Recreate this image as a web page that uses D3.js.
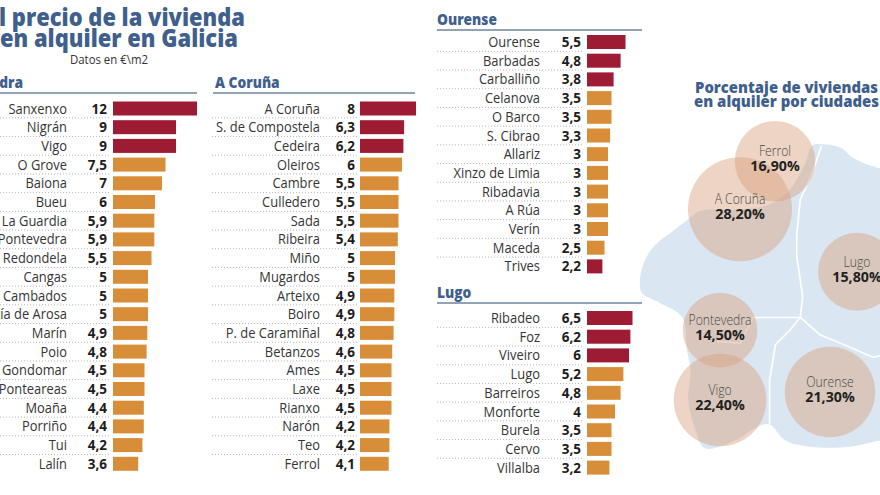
<!DOCTYPE html>
<html>
<head>
<meta charset="utf-8">
<script src="https://cdn.jsdelivr.net/npm/d3@7"></script>
<style>
  body { margin: 0; background: #fff; }
  svg { display: block; font-family: "Open Sans", "Noto Sans", sans-serif; }
</style>
</head>
<body>
<svg id="chart" width="880" height="495"></svg>
<script>
// ---- data (euros per m2) ----
var pontevedraCities = ["Sanxenxo", "Nigrán", "Vigo", "O Grove", "Baiona", "Bueu", "La Guardia",
  "Pontevedra", "Redondela", "Cangas", "Cambados", "Vilagarcía de Arosa", "Marín", "Poio",
  "Gondomar", "Ponteareas", "Moaña", "Porriño", "Tui", "Lalín"];
var pontevedraValues = [12, 9, 9, 7.5, 7, 6, 5.9, 5.9, 5.5, 5, 5, 5, 4.9, 4.8, 4.5, 4.5, 4.4, 4.4, 4.2, 3.6];

var corunaCities = ["A Coruña", "S. de Compostela", "Cedeira", "Oleiros", "Cambre", "Culledero",
  "Sada", "Ribeira", "Miño", "Mugardos", "Arteixo", "Boiro", "P. de Caramiñal", "Betanzos",
  "Ames", "Laxe", "Rianxo", "Narón", "Teo", "Ferrol"];
var corunaValues = [8, 6.3, 6.2, 6, 5.5, 5.5, 5.5, 5.4, 5, 5, 4.9, 4.9, 4.8, 4.6, 4.5, 4.5, 4.5, 4.2, 4.2, 4.1];

var ourenseCities = ["Ourense", "Barbadas", "Carballiño", "Celanova", "O Barco", "S. Cibrao",
  "Allariz", "Xinzo de Limia", "Ribadavia", "A Rúa", "Verín", "Maceda", "Trives"];
var ourenseValues = [5.5, 4.8, 3.8, 3.5, 3.5, 3.3, 3, 3, 3, 3, 3, 2.5, 2.2];

var lugoCities = ["Ribadeo", "Foz", "Viveiro", "Lugo", "Barreiros", "Monforte", "Burela", "Cervo", "Villalba"];
var lugoValues = [6.5, 6.2, 6, 5.2, 4.8, 4, 3.5, 3.5, 3.2];

// bars shown in dark red
var highlighted = ["Sanxenxo", "Nigrán", "Vigo", "A Coruña", "S. de Compostela", "Cedeira",
  "Ourense", "Barbadas", "Carballiño", "Trives", "Ribadeo", "Foz", "Viveiro"];

// ---- map data: share of rented homes (%) ----
var mapCities = ["Ferrol", "A Coruña", "Lugo", "Pontevedra", "Vigo", "Ourense"];
var mapShares = [16.9, 28.2, 15.8, 14.5, 22.4, 21.3];
// where each bubble sits on the map (lon, lat)
var mapLon = [-8.254, -8.551, -7.559, -8.720, -8.720, -7.788];
var mapLat = [43.675, 43.381, 42.994, 42.631, 42.194, 42.244];

// rough outline of Galicia (lon, lat)
var galiciaOutline = [
  [-7.94, 43.77], [-7.86, 43.78], [-7.70, 43.76], [-7.58, 43.69], [-7.36, 43.63],
  [-6.94, 43.57], [-6.86, 43.13], [-6.86, 42.00], [-7.36, 41.94], [-7.62, 41.90], [-7.96, 41.90],
  [-8.17, 41.94], [-8.30, 42.04], [-8.42, 42.02], [-8.59, 41.94], [-8.85, 41.89], [-8.93, 42.01],
  [-8.99, 42.19], [-8.97, 42.38], [-9.00, 42.50], [-9.04, 42.71], [-9.23, 42.80], [-9.38, 42.86],
  [-9.40, 42.93], [-9.36, 43.06], [-9.27, 43.16], [-9.13, 43.24], [-8.97, 43.33], [-8.89, 43.37],
  [-8.55, 43.38], [-8.30, 43.41], [-8.13, 43.50], [-8.00, 43.66]
];
var provinceBorders = [
  [[-7.86, 43.77], [-7.94, 43.60], [-8.04, 43.44], [-8.07, 43.22], [-8.07, 43.09], [-8.02, 42.84], [-8.04, 42.71]],
  [[-8.04, 42.71], [-8.21, 42.71], [-8.44, 42.71], [-8.55, 42.55], [-8.75, 42.56]],
  [[-8.04, 42.71], [-7.87, 42.60], [-7.70, 42.55], [-7.42, 42.46], [-7.19, 42.51], [-6.90, 42.45]],
  [[-8.04, 42.71], [-8.13, 42.63], [-8.25, 42.54], [-8.30, 42.32], [-8.30, 42.04]]
];

var RED = "#9d1b33", ORANGE = "#d88d38", BLUE = "#3f5f8d", RULE = "#93a3b6";
var ROW = 18.7;

var svg = d3.select("#chart");
var x = d3.scaleLinear().domain([0, 12]).range([0, 84]);
var fmt = function (v) { return String(v).replace(".", ","); };

// text squeezed horizontally to mimic the condensed newspaper face
function condText(parent, tx, ty, txt, anchor, sx) {
  return parent.append("text")
    .attr("transform", "translate(" + tx + "," + ty + ") scale(" + sx + ",1)")
    .attr("text-anchor", anchor)
    .text(txt);
}

// ---- title ----
svg.append("text").attr("x", -13).attr("y", 26)
  .attr("textLength", 258).attr("lengthAdjust", "spacingAndGlyphs")
  .attr("font-size", 25).attr("font-weight", 800).attr("fill", BLUE)
  .text("El precio de la vivienda");
svg.append("text").attr("x", 0).attr("y", 47)
  .attr("textLength", 238).attr("lengthAdjust", "spacingAndGlyphs")
  .attr("font-size", 25).attr("font-weight", 800).attr("fill", BLUE)
  .text("en alquiler en Galicia");
condText(svg, 70, 64, "Datos en €\\m2", "start", 0.95)
  .attr("font-size", 12).attr("fill", "#333");

// ---- bar panels ----
var panels = [
  { name: "Pontevedra", cities: pontevedraCities, values: pontevedraValues, headX: 23, headAnchor: "end",
    headY: 88, ruleY: 93, ruleX: [0, 197], labelX: 67, valueX: 107, barX: 113, first: 108.5, dotX: [0, 110] },
  { name: "A Coruña", cities: corunaCities, values: corunaValues, headX: 215, headAnchor: "start",
    headY: 88, ruleY: 93, ruleX: [213, 415], labelX: 320, valueX: 355, barX: 360, first: 108.5, dotX: [212, 357] },
  { name: "Ourense", cities: ourenseCities, values: ourenseValues, headX: 437, headAnchor: "start",
    headY: 25, ruleY: 30, ruleX: [437, 642], labelX: 540, valueX: 581, barX: 587, first: 42, dotX: [437, 584] },
  { name: "Lugo", cities: lugoCities, values: lugoValues, headX: 437, headAnchor: "start",
    headY: 298, ruleY: 303, ruleX: [437, 642], labelX: 540, valueX: 581, barX: 587, first: 318, dotX: [437, 584] }
];

panels.forEach(function (p) {
  var g = svg.append("g");
  var rows = p.cities.map(function (c, i) { return { city: c, value: p.values[i] }; });
  var y = d3.scaleBand()
    .domain(p.cities)
    .range([p.first - ROW / 2, p.first - ROW / 2 + ROW * p.cities.length]);

  condText(g, p.headX, p.headY, p.name, p.headAnchor, 0.86)
    .attr("font-size", 16).attr("font-weight", 800).attr("fill", BLUE);
  g.append("line")
    .attr("x1", p.ruleX[0]).attr("x2", p.ruleX[1])
    .attr("y1", p.ruleY).attr("y2", p.ruleY)
    .attr("stroke", RULE).attr("stroke-width", 2);

  // dotted separators between rows
  g.selectAll("line.sep")
    .data(rows.slice(0, -1))
    .enter().append("line")
    .attr("class", "sep")
    .attr("x1", p.dotX[0]).attr("x2", p.dotX[1])
    .attr("y1", function (d) { return y(d.city) + y.bandwidth(); })
    .attr("y2", function (d) { return y(d.city) + y.bandwidth(); })
    .attr("stroke", "#b5b5b5").attr("stroke-width", 1).attr("stroke-dasharray", "1,2");

  g.selectAll("rect.bar")
    .data(rows)
    .enter().append("rect")
    .attr("class", "bar")
    .attr("x", p.barX)
    .attr("y", function (d) { return y(d.city) + (y.bandwidth() - 14) / 2; })
    .attr("width", function (d) { return x(d.value); })
    .attr("height", 14)
    .attr("fill", function (d) { return highlighted.indexOf(d.city) >= 0 ? RED : ORANGE; });

  rows.forEach(function (d) {
    var cy = y(d.city) + y.bandwidth() / 2 + 5;
    condText(g, p.labelX, cy, d.city, "end", 0.86)
      .attr("font-size", 15).attr("fill", "#353535");
    condText(g, p.valueX, cy, fmt(d.value), "end", 0.9)
      .attr("font-size", 15).attr("font-weight", 700).attr("fill", "#1d1d1d");
  });
});

// ---- map ----
var projection = d3.geoMercator().center([-8, 42.8]).scale(6760).translate([805, 303]);
function projLine(curve) {
  return d3.line()
    .x(function (d) { return projection(d)[0]; })
    .y(function (d) { return projection(d)[1]; })
    .curve(curve);
}

var mapG = svg.append("g");
mapG.append("path")
  .attr("d", projLine(d3.curveCatmullRomClosed)(galiciaOutline))
  .attr("fill", "#dae7f3");
mapG.selectAll("path.border")
  .data(provinceBorders)
  .enter().append("path")
  .attr("class", "border")
  .attr("d", projLine(d3.curveLinear))
  .attr("fill", "none").attr("stroke", "#fff").attr("stroke-width", 1.6);

var r = d3.scaleSqrt().domain([0, 28.2]).range([0, 52]);
var bubbles = mapCities.map(function (c, i) {
  var pt = projection([mapLon[i], mapLat[i]]);
  return { city: c, share: mapShares[i], cx: pt[0], cy: pt[1] };
});

mapG.selectAll("circle")
  .data(bubbles)
  .enter().append("circle")
  .attr("cx", function (d) { return d.cx; })
  .attr("cy", function (d) { return d.cy; })
  .attr("r", function (d) { return r(d.share); })
  .attr("fill", "#d6a07d").attr("fill-opacity", 0.45);

bubbles.forEach(function (d) {
  condText(mapG, d.cx, d.cy - 5, d.city, "middle", 0.87)
    .attr("font-size", 14).attr("font-weight", 300).attr("fill", "#4a4a4a");
  condText(mapG, d.cx, d.cy + 10, fmt(d.share.toFixed(2)) + "%", "middle", 0.95)
    .attr("font-size", 15).attr("font-weight", 700).attr("fill", "#222");
});

svg.append("text").attr("x", 695).attr("y", 93)
  .attr("textLength", 183).attr("lengthAdjust", "spacingAndGlyphs")
  .attr("font-size", 15).attr("font-weight", 800).attr("fill", BLUE)
  .text("Porcentaje de viviendas");
svg.append("text").attr("x", 694).attr("y", 107)
  .attr("textLength", 185).attr("lengthAdjust", "spacingAndGlyphs")
  .attr("font-size", 15).attr("font-weight", 800).attr("fill", BLUE)
  .text("en alquiler por ciudades");
</script>
</body>
</html>
